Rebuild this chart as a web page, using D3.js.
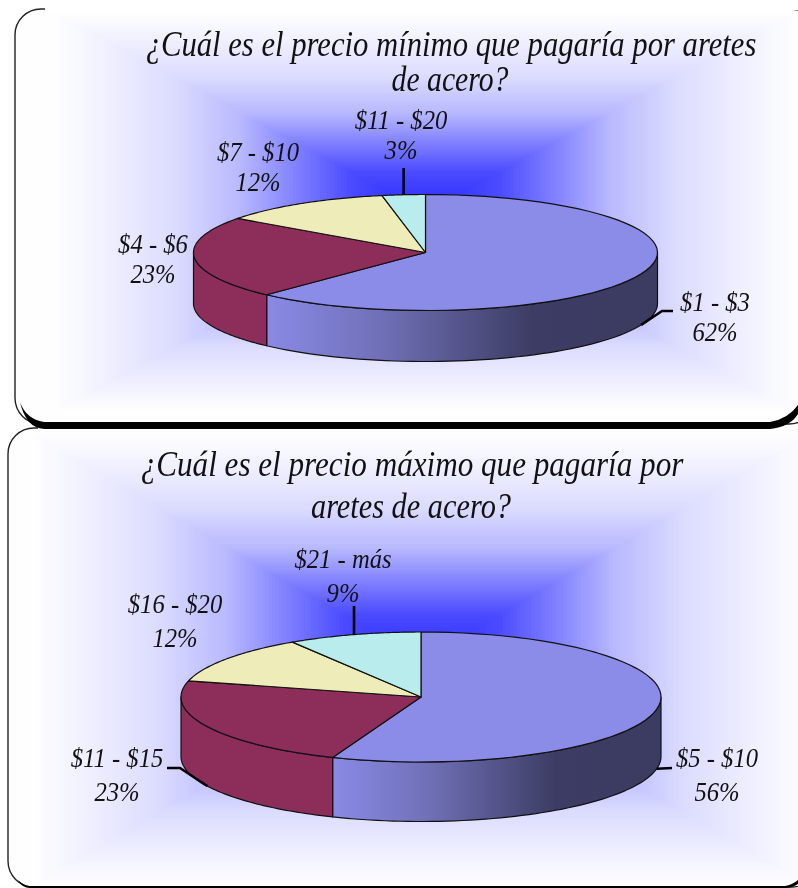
<!DOCTYPE html>
<html>
<head>
<meta charset="utf-8">
<script src="https://cdn.jsdelivr.net/npm/d3@7"></script>
<style>
html,body{margin:0;padding:0;background:#fff;overflow:hidden}
svg{display:block;filter:blur(0.45px)}
text{font-family:"Liberation Serif",serif;font-style:italic;fill:#111}
</style>
</head>
<body>
<svg id="chart" width="798" height="888"></svg>
<script>
// ---- data ----
const titlesA = ["¿Cuál es el precio mínimo que pagaría por aretes", "de acero?"];
const categoriesA = ["$1 - $3", "$4 - $6", "$7 - $10", "$11 - $20"];
const valuesA = [62, 23, 12, 3];

const titlesB = ["¿Cuál es el precio máximo que pagaría por", "aretes de acero?"];
const categoriesB = ["$5 - $10", "$11 - $15", "$16 - $20", "$21 - más"];
const valuesB = [56, 23, 12, 9];

const sliceColors = ["#8b8be8", "#8c2d5a", "#eeecb8", "#b9ecec"];

// ---- layout ----
const panels = [
  {
    titles: titlesA, cats: categoriesA, vals: valuesA,
    box: {x: 15, y: 9, w: 800, h: 415, r: 26},
    shadow: "M20,402 Q26,419 44,422 L770,422 Q788,419 798,405 L798,414 Q790,427 770,429 L44,429 Q26,428 20,402Z",
    bg: {cx: 425, cy: 212, hw: 372, hh: 200},
    pie: {cx: 425.5, cy: 252.5, rx: 232, ry: 58, depth: 51},
    titleX: [451, 450], titleY: [56, 91], titleW: [611, 117],
    labelX: [715, 153, 258, 401], labelY: [311, 253, 161, 129],
    pctGap: 30,
    elbows: [[662, 311, 673, 311], null, null, [null, null, null, 168]]
  },
  {
    titles: titlesB, cats: categoriesB, vals: valuesB,
    box: {x: 8, y: 428, w: 810, h: 459, r: 26},
    shadow: "M30,886 L785,886 Q792,885 798,880 L798,884 Q792,888 785,888 L30,888 Q22,888 18,880 Q24,886 30,886Z",
    bg: {cx: 421, cy: 660, hw: 390, hh: 226},
    pie: {cx: 421, cy: 697, rx: 240, ry: 65, depth: 59.5},
    titleX: [412, 411], titleY: [476, 518], titleW: [543, 200],
    labelX: [717, 117, 175, 343], labelY: [767, 767, 613, 568],
    pctGap: 34,
    elbows: [[672, 768, 672, 768], [180, 768, 167, 768], null, [null, null, null, 606]]
  }
];

const svg = d3.select("#chart");
const defs = svg.append("defs");
const bgColor = d3.scaleLinear()
  .domain([0, 0.2, 0.35, 0.5, 0.68, 0.9, 1])
  .range(["#2a2aff", "#4a4aff", "#8080ff", "#b8b8ff", "#dcdcff", "#f4f4ff", "#fefeff"])
  .interpolate(d3.interpolateRgb);

panels.forEach((p, idx) => {
  const g = svg.append("g");
  const clipId = "clip" + idx;
  defs.append("clipPath").attr("id", clipId).append("rect")
    .attr("x", p.box.x).attr("y", p.box.y).attr("width", p.box.w).attr("height", p.box.h)
    .attr("rx", p.box.r).attr("ry", p.box.r);

  // background rectangular gradient, built from nested rectangles
  const bgG = g.append("g").attr("clip-path", `url(#${clipId})`);
  g.append("rect")
    .attr("x", p.box.x).attr("y", p.box.y).attr("width", p.box.w).attr("height", p.box.h)
    .attr("rx", p.box.r).attr("ry", p.box.r)
    .attr("fill", "none").attr("stroke", "#222").attr("stroke-width", 1.4);
  const steps = d3.range(1, 0, -1 / 110);
  bgG.insert("rect").attr("x", p.box.x).attr("y", p.box.y).attr("width", p.box.w).attr("height", p.box.h).attr("fill", "#fefeff");
  bgG.selectAll("rect.step").data(steps).join("rect").attr("class", "step")
    .attr("x", t => p.bg.cx - p.bg.hw * t).attr("y", t => p.bg.cy - p.bg.hh * t)
    .attr("width", t => 2 * p.bg.hw * t).attr("height", t => 2 * p.bg.hh * t)
    .attr("fill", t => bgColor(t));

  // the picture shows no line along the top edge
  g.append("line").attr("x1", p.box.x + p.box.r + 4).attr("x2", 798).attr("y1", p.box.y).attr("y2", p.box.y)
    .attr("stroke", "#fff").attr("stroke-width", 3);

  // scales for the tilted pie
  const P = p.pie;
  const sx = d3.scaleLinear().domain([-1, 1]).range([P.cx - P.rx, P.cx + P.rx]);
  const sy = d3.scaleLinear().domain([-1, 1]).range([P.cy - P.ry, P.cy + P.ry]);
  const ptX = a => sx(Math.sin(a));
  const ptY = a => sy(-Math.cos(a));
  const sample = (a0, a1) => d3.range(0, 61).map(i => a0 + (a1 - a0) * i / 60);
  const line = d3.line().x(d => d[0]).y(d => d[1]);

  const arcs = d3.pie().sort(null).value(d => d)(p.vals);

  const gradId = "wall" + idx;
  const x0 = ptX(arcs[0].endAngle);
  const grad = defs.append("linearGradient").attr("id", gradId)
    .attr("gradientUnits", "userSpaceOnUse")
    .attr("x1", x0).attr("x2", P.cx + P.rx).attr("y1", 0).attr("y2", 0);
  [[0, "#8a8ae6"], [0.3, "#6f6fb6"], [0.5, "#54548a"], [0.68, "#3c3c64"], [1, "#3c3c62"]]
    .forEach(s => grad.append("stop").attr("offset", s[0]).attr("stop-color", s[1]));

  // walls (only the front half of the cylinder)
  const front0 = Math.PI / 2, front1 = Math.PI * 1.5;
  arcs.forEach((a, i) => {
    const s = Math.max(a.startAngle, front0), e = Math.min(a.endAngle, front1);
    if (e <= s) return;
    const top = sample(s, e).map(t => [ptX(t), ptY(t)]);
    const bottom = sample(e, s).map(t => [ptX(t), ptY(t) + P.depth]);
    g.append("path").attr("d", line(top.concat(bottom)) + "Z")
      .attr("fill", i === 0 ? `url(#${gradId})` : sliceColors[i])
      .attr("stroke", "#111").attr("stroke-width", 1.2).attr("stroke-linejoin", "round");
  });

  // top slices
  arcs.forEach((a, i) => {
    const pts = [[P.cx, P.cy]].concat(sample(a.startAngle, a.endAngle).map(t => [ptX(t), ptY(t)]));
    g.append("path").attr("d", line(pts) + "Z")
      .attr("fill", sliceColors[i]).attr("stroke", "#111").attr("stroke-width", 1.2)
      .attr("stroke-linejoin", "round");
  });

  // leader lines, starting on the pie at each slice's middle angle
  arcs.forEach((a, i) => {
    const el = p.elbows[i];
    if (!el) return;
    const mid = (a.startAngle + a.endAngle) / 2;
    const lower = Math.cos(mid) < 0;
    const start = [ptX(mid), ptY(mid) + (lower ? P.depth : 0)];
    const pts = el[0] === null
      ? [start, [start[0], el[3]]]
      : [start, [el[0], el[1]], [el[2], el[3]]];
    g.append("path").attr("d", line(pts)).attr("fill", "none")
      .attr("stroke", "#000").attr("stroke-width", 2.6);
  });

  // title: fitted horizontally to the measured width
  p.titles.forEach((t, i) => {
    const el = g.append("text").text(t).attr("text-anchor", "middle").attr("font-size", 35);
    const k = p.titleW[i] / el.node().getComputedTextLength();
    el.attr("transform", `translate(${p.titleX[i]},${p.titleY[i]}) scale(${k},1)`);
  });

  // labels
  p.cats.forEach((c, i) => {
    const lx = p.labelX[i], ly = p.labelY[i];
    g.append("text").text(c)
      .attr("transform", `translate(${lx},${ly}) scale(0.88,1)`)
      .attr("text-anchor", "middle").attr("font-size", 28);
    g.append("text").text(p.vals[i] + "%")
      .attr("transform", `translate(${lx},${ly + p.pctGap}) scale(0.88,1)`)
      .attr("text-anchor", "middle").attr("font-size", 28);
  });
});

// heavy dark bottoms of the two frames, drawn over both panels
svg.selectAll("path.frameShadow").data(panels).join("path")
  .attr("class", "frameShadow").attr("d", d => d.shadow).attr("fill", "#000");
</script>
</body>
</html>
